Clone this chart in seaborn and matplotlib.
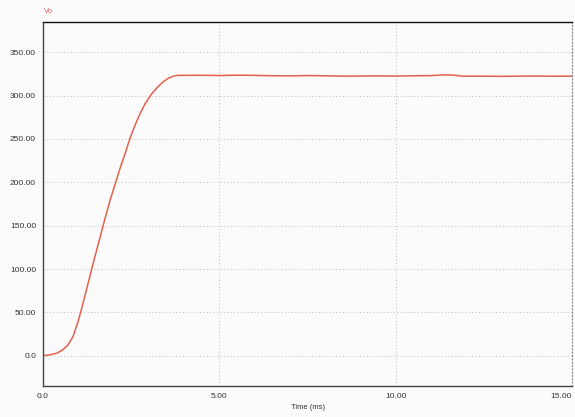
import pandas as pd
import matplotlib
matplotlib.use('Agg')
import matplotlib.pyplot as plt
import seaborn as sns

# Waveform (time in ms, Vo in V)
time_ms = [0.0, 0.2, 0.4, 0.55, 0.7, 0.85, 1.0, 1.15, 1.3, 1.45, 1.6, 1.75, 1.9, 2.06, 2.2, 2.35,
           2.46, 2.6, 2.75, 2.9, 3.08, 3.25, 3.41, 3.55, 3.7, 3.82,
           4.5, 5.0, 5.5, 6.0, 6.5, 7.0, 7.5, 8.0, 8.5, 9.0, 9.5, 10.0, 10.5, 11.0, 11.3,
           11.6, 11.9, 12.5, 13.0, 13.5, 14.0, 14.5, 15.0]
vo = [0.0, 1.0, 3.0, 6.5, 12.0, 22.0, 40.0, 63.0, 87.0, 111.0, 134.0, 157.0, 179.0, 200.0, 218.0, 236.0,
      250.0, 265.0, 279.0, 291.0, 302.0, 310.0, 316.0, 320.0, 322.5, 323.4,
      323.5, 323.2, 323.6, 323.4, 323.0, 322.8, 323.2, 322.9, 322.5, 322.6, 322.8, 322.6, 322.9,
      323.1, 323.9, 323.8, 322.5, 322.4, 322.3, 322.5, 322.6, 322.4, 322.5]

y_ticks = [0, 50, 100, 150, 200, 250, 300, 350]
y_labels = ['0.0', '50.00', '100.00', '150.00', '200.00', '250.00', '300.00', '350.00']
x_ticks = [0, 5, 10, 15]
x_labels = ['0.0', '5.00', '10.00', '15.00']

df = pd.DataFrame({'Time (ms)': time_ms, 'Vo': vo})

sns.set_style('white')
plt.rcParams['font.family'] = ['Liberation Sans', 'DejaVu Sans']

fig = plt.figure(figsize=(5.75, 4.17), dpi=100)
fig.patch.set_facecolor('#fbfbfb')
ax = fig.add_axes([0.0748, 0.0743, 0.92, 0.873])
ax.set_facecolor('#fbfbfb')

sns.lineplot(data=df, x='Time (ms)', y='Vo', ax=ax, color='#e4604e', linewidth=1.1)

ax.set_xlim(0, 15)
ax.set_ylim(-35, 385)
ax.set_xticks(x_ticks)
ax.set_xticklabels(x_labels)
ax.set_yticks(y_ticks)
ax.set_yticklabels(y_labels)
ax.tick_params(axis='both', length=0, labelsize=6, colors='#333333', pad=5)
ax.get_xticklabels()[-1].set_horizontalalignment('right')
ax.set_xlabel('Time (ms)', fontsize=5.5, color='#333333', labelpad=3)
ax.set_ylabel('')

ax.grid(True, color='#bbbbbb', linestyle=(0, (1, 2.5)), linewidth=0.7)

for side in ['left', 'bottom']:
    ax.spines[side].set_linestyle((0, (1.5, 1)))
    ax.spines[side].set_color('#444444')
    ax.spines[side].set_linewidth(1.0)
ax.spines['top'].set_color('#111111')
ax.spines['top'].set_linewidth(1.0)
ax.spines['right'].set_linestyle((0, (1, 2)))
ax.spines['right'].set_color('#888888')
ax.spines['right'].set_linewidth(0.8)

fig.text(0.0765, 0.972, 'Vo', fontsize=5.5, color='#e06060', ha='left', va='center')

fig.savefig('out.png', dpi=100, facecolor=fig.get_facecolor())
